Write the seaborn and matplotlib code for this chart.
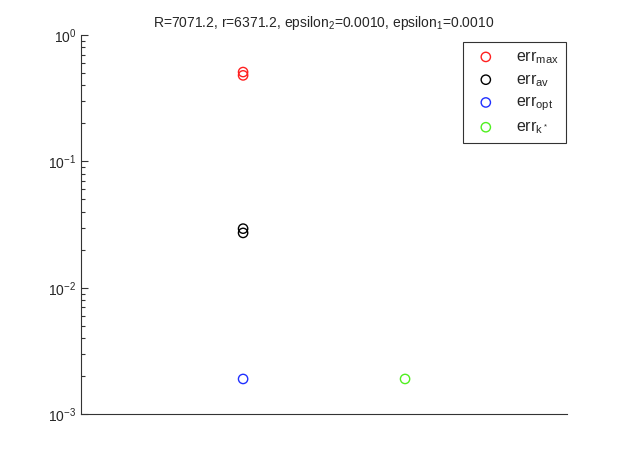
import matplotlib
matplotlib.use('Agg')
import matplotlib.pyplot as plt
import seaborn as sns
import pandas as pd
from matplotlib.ticker import LogLocator, NullFormatter

# values
series_names = ['max', 'av', 'opt', 'kstar']
series_labels = ['err$_{max}$', 'err$_{av}$', 'err$_{opt}$', 'err$_{k^*}$']
series_colors = ['#ff2020', '#000000', '#2030ff', '#50f020']
x_max = [1, 1]
err_max = [0.51, 0.48]
x_av = [1, 1]
err_av = [0.0294, 0.0272]
x_opt = [1]
err_opt = [0.0019]
x_kstar = [2]
err_kstar = [0.0019]

title = 'R=7071.2, r=6371.2, epsilon$_2$=0.0010, epsilon$_1$=0.0010'

frames = []
for name, xs, ys in [('max', x_max, err_max), ('av', x_av, err_av),
                     ('opt', x_opt, err_opt), ('kstar', x_kstar, err_kstar)]:
    frames.append(pd.DataFrame({'x': xs, 'err': ys, 'series': name}))
df = pd.concat(frames, ignore_index=True)

sns.set_style('white')
plt.rcParams['font.family'] = ['Liberation Sans', 'DejaVu Sans']
plt.rcParams['mathtext.fontset'] = 'custom'
plt.rcParams['mathtext.rm'] = 'Liberation Sans'
plt.rcParams['mathtext.it'] = 'Liberation Sans'

fig = plt.figure(figsize=(6.24, 4.68), dpi=100)
ax = fig.add_axes([0.13, 0.115, 0.7787, 0.81])

for name, label, color in zip(series_names, series_labels, series_colors):
    sub = df[df['series'] == name]
    sns.scatterplot(data=sub, x='x', y='err', ax=ax, marker='o', s=45,
                    facecolor='none', edgecolor=color, linewidth=1.0,
                    label=label)

ax.set_yscale('log')
ax.set_ylim(1e-3, 1e0)
ax.set_xlim(0, 3)
ax.set_xticks([])
ax.set_xlabel('')
ax.set_ylabel('')
ax.yaxis.set_major_locator(LogLocator(base=10, numticks=10))
ax.yaxis.set_minor_locator(LogLocator(base=10, subs=range(2, 10), numticks=40))
ax.yaxis.set_minor_formatter(NullFormatter())
ax.tick_params(axis='y', which='both', direction='in', left=True, labelsize=10,
               color='#333333')
ax.tick_params(axis='y', which='major', length=5, width=0.8)
ax.tick_params(axis='y', which='minor', length=3, width=0.8)
for side in ['top', 'right']:
    ax.spines[side].set_visible(False)
for side in ['left', 'bottom']:
    ax.spines[side].set_color('#333333')
    ax.spines[side].set_linewidth(0.8)

ax.set_title(title, fontsize=10)

leg = ax.legend(loc='upper right', bbox_to_anchor=(0.998, 0.982),
                frameon=True, fancybox=False, fontsize=11.5,
                borderaxespad=0, borderpad=0.45, handletextpad=0.9,
                labelspacing=0.38, handlelength=2.0, markerscale=1.0)
leg.get_frame().set_edgecolor('black')
leg.get_frame().set_linewidth(0.8)

fig.savefig('out.png', dpi=100)
